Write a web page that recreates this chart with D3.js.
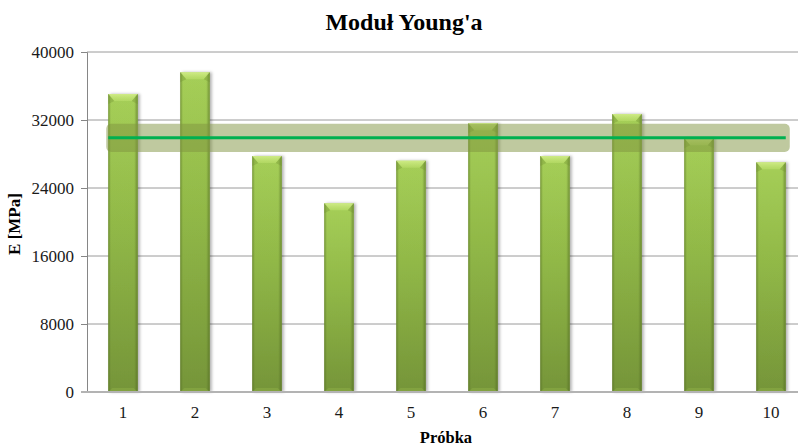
<!DOCTYPE html>
<html>
<head>
<meta charset="utf-8">
<script src="https://cdn.jsdelivr.net/npm/d3@7"></script>
<style>
  html, body { margin: 0; padding: 0; background: #fff; }
  svg { display: block; }
  text { font-family: "Liberation Serif", "Times New Roman", serif; }
</style>
</head>
<body>
<div id="chart"></div>
<script>
// Young's modulus per sample
const samples = ["1", "2", "3", "4", "5", "6", "7", "8", "9", "10"];
const modulusE = [35050, 37610, 27760, 22200, 27210, 31610, 27760, 32700, 29840, 27020];
const yTicks = [0, 8000, 16000, 24000, 32000, 40000];
const meanE = 29900;        // average modulus
const spreadE = 1650;       // half-width of the shaded band around the average

const W = 798, H = 448;
const margin = { left: 87, right: -9, top: 52, bottom: 56 };

const svg = d3.select("#chart").append("svg")
  .attr("width", W).attr("height", H);

const x = d3.scaleBand()
  .domain(samples)
  .range([margin.left, W - margin.right])
  .paddingInner(0.59)
  .paddingOuter(0.295);

const y = d3.scaleLinear()
  .domain([0, 40000])
  .range([H - margin.bottom, margin.top]);

const defs = svg.append("defs");

const bodyGrad = defs.append("linearGradient").attr("id", "barBody")
  .attr("x1", 0).attr("y1", 0).attr("x2", 0).attr("y2", 1);
bodyGrad.append("stop").attr("offset", "0%").attr("stop-color", "#aad45b");
bodyGrad.append("stop").attr("offset", "45%").attr("stop-color", "#94bc49");
bodyGrad.append("stop").attr("offset", "100%").attr("stop-color", "#77973a");

const sideGrad = defs.append("linearGradient").attr("id", "barSides")
  .attr("x1", 0).attr("y1", 0).attr("x2", 1).attr("y2", 0);
sideGrad.append("stop").attr("offset", "0%").attr("stop-color", "#4e6620").attr("stop-opacity", 0.55);
sideGrad.append("stop").attr("offset", "9%").attr("stop-color", "#4e6620").attr("stop-opacity", 0.05);
sideGrad.append("stop").attr("offset", "88%").attr("stop-color", "#4e6620").attr("stop-opacity", 0.05);
sideGrad.append("stop").attr("offset", "100%").attr("stop-color", "#4e6620").attr("stop-opacity", 0.6);

const topGrad = defs.append("linearGradient").attr("id", "barTop")
  .attr("x1", 0).attr("y1", 0).attr("x2", 0).attr("y2", 1);
topGrad.append("stop").attr("offset", "0%").attr("stop-color", "#d6f08e").attr("stop-opacity", 0.85);
topGrad.append("stop").attr("offset", "100%").attr("stop-color", "#c2e470").attr("stop-opacity", 0.45);

const shadow = defs.append("filter").attr("id", "barShadow")
  .attr("x", "-30%").attr("y", "-10%").attr("width", "160%").attr("height", "120%");
shadow.append("feDropShadow")
  .attr("dx", 2).attr("dy", 0).attr("stdDeviation", 1.4)
  .attr("flood-color", "#000").attr("flood-opacity", 0.3);

// gridlines
svg.append("g")
  .selectAll("line")
  .data(yTicks.filter(d => d > 0))
  .join("line")
  .attr("x1", margin.left).attr("x2", W)
  .attr("y1", d => y(d)).attr("y2", d => y(d))
  .attr("stroke", "#9a9a9a").attr("stroke-width", 1);

// left axis
const yAxis = d3.axisLeft(y).tickValues(yTicks).tickSize(6).tickPadding(7).tickFormat(d3.format("d"));
const gy = svg.append("g").attr("transform", `translate(${margin.left},0)`).call(yAxis);
gy.select(".domain").attr("stroke", "#868686");
gy.selectAll(".tick line").attr("stroke", "#868686");
gy.selectAll(".tick text")
  .attr("font-family", "'Liberation Serif', serif")
  .attr("font-size", 17).attr("fill", "#1a1a1a");

// bars
const bars = svg.append("g").selectAll("g.bar")
  .data(samples.map((s, i) => ({ s, v: modulusE[i] })))
  .join("g").attr("class", "bar");

bars.append("rect")
  .attr("x", d => x(d.s)).attr("width", x.bandwidth())
  .attr("y", d => y(d.v)).attr("height", d => y(0) - y(d.v))
  .attr("fill", "url(#barBody)")
  .attr("filter", "url(#barShadow)");

bars.append("rect")
  .attr("x", d => x(d.s)).attr("width", x.bandwidth())
  .attr("y", d => y(d.v)).attr("height", d => y(0) - y(d.v))
  .attr("fill", "url(#barSides)");

// top bevel
bars.append("path")
  .attr("d", d => {
    const x0 = x(d.s), w = x.bandwidth(), t = y(d.v), b = 6, h = 7;
    return `M${x0},${t}L${x0 + w},${t}L${x0 + w - b},${t + h}L${x0 + b},${t + h}Z`;
  })
  .attr("fill", "url(#barTop)");

// bevel side facets
bars.append("path")
  .attr("d", d => {
    const x0 = x(d.s), w = x.bandwidth(), t = y(d.v), b = 6, h = 7;
    return `M${x0},${t}L${x0 + b},${t + h}L${x0},${t + h + 3}Z M${x0 + w},${t}L${x0 + w - b},${t + h}L${x0 + w},${t + h + 3}Z`;
  })
  .attr("fill", "#6f8f30").attr("opacity", 0.35);

// bottom bevel
bars.append("path")
  .attr("d", d => {
    const x0 = x(d.s), w = x.bandwidth(), bt = y(0), b = 4, h = 4;
    return `M${x0},${bt}L${x0 + w},${bt}L${x0 + w - b},${bt - h}L${x0 + b},${bt - h}Z`;
  })
  .attr("fill", "#8aab45").attr("opacity", 0.6);

// baseline
svg.append("line")
  .attr("x1", margin.left - 6).attr("x2", W)
  .attr("y1", y(0)).attr("y2", y(0))
  .attr("stroke", "#b3b3b3").attr("stroke-width", 2);

// bottom category labels
const xAxis = d3.axisBottom(x).tickSize(0).tickPadding(14);
const gx = svg.append("g").attr("transform", `translate(0,${y(0)})`).call(xAxis);
gx.select(".domain").remove();
gx.selectAll(".tick text")
  .attr("font-family", "'Liberation Serif', serif")
  .attr("font-size", 17).attr("fill", "#1a1a1a");

// average band and line
const first = samples[0], last = samples[samples.length - 1];
const lineX0 = x(first), lineX1 = x(last) + x.bandwidth();
svg.append("rect")
  .attr("x", lineX0 - 2).attr("width", lineX1 - lineX0 + 6)
  .attr("y", y(meanE + spreadE)).attr("height", y(meanE - spreadE) - y(meanE + spreadE))
  .attr("rx", 5).attr("ry", 5)
  .attr("fill", "#7f933f").attr("fill-opacity", 0.5);

svg.append("line")
  .attr("x1", lineX0).attr("x2", lineX1)
  .attr("y1", y(meanE)).attr("y2", y(meanE))
  .attr("stroke", "#00b050").attr("stroke-width", 3);

// titles
svg.append("text")
  .attr("x", 404).attr("y", 30)
  .attr("text-anchor", "middle")
  .attr("font-size", 24).attr("font-weight", "bold")
  .text("Moduł Young'a");

svg.append("text")
  .attr("transform", "translate(20,224) rotate(-90)")
  .attr("text-anchor", "middle")
  .attr("font-size", 17).attr("font-weight", "bold")
  .text("E [MPa]");

svg.append("text")
  .attr("x", 446).attr("y", 443)
  .attr("text-anchor", "middle")
  .attr("font-size", 16.5).attr("font-weight", "bold")
  .text("Próbka");
</script>
</body>
</html>
